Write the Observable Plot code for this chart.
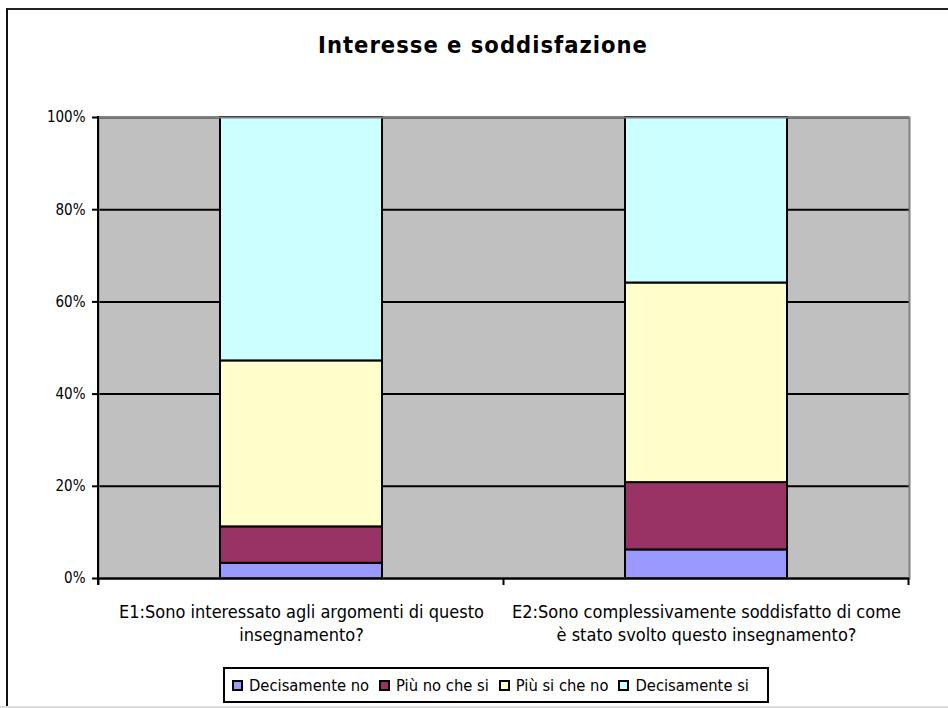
<!DOCTYPE html>
<html>
<head>
<meta charset="utf-8">
<script src="https://cdn.jsdelivr.net/npm/d3@7"></script>
<script src="https://cdn.jsdelivr.net/npm/@observablehq/plot@0.6"></script>
<style>
  html, body { margin: 0; padding: 0; background: #fff; }
  #wrap { position: relative; width: 948px; height: 708px; overflow: hidden; font-family: "DejaVu Sans Condensed", "Liberation Sans", sans-serif; color: #000; }
  #frame { position: absolute; left: 6px; top: 8px; width: 1000px; height: 1000px; border-left: 2px solid #111; border-top: 2px solid #222; }
  #title { position: absolute; left: 0; width: 966px; top: 31px; text-align: center; font-weight: bold; font-size: 23.5px; letter-spacing: 1px; }
  #chart { position: absolute; left: 0; top: 100px; }
  #legend { position: absolute; left: 223px; top: 667px; width: 542px; height: 32px; border: 2px solid #000; box-sizing: content-box; display: flex; align-items: center; justify-content: flex-start; padding-left: 0; font-size: 16.4px; white-space: nowrap; }
  .item { display: flex; align-items: center; margin-left: 7px; margin-right: 10px; }
  .sw { width: 7px; height: 7px; border: 2px solid #000; margin-right: 6px; }
  #bottomline { position: absolute; left: 0; top: 706px; width: 948px; height: 2px; background: #ddd; }
</style>
</head>
<body>
<div id="wrap">
  <div id="frame"></div>
  <div id="title">Interesse e soddisfazione</div>
  <div id="chart"></div>
  <div id="legend"></div>
  <div id="bottomline"></div>
</div>
<script>
const categories = [
  "E1:Sono interessato agli argomenti di questo\ninsegnamento?",
  "E2:Sono complessivamente soddisfatto di come\nè stato svolto questo insegnamento?"
];
const seriesNames = ["Decisamente no", "Più no che si", "Più si che no", "Decisamente si"];
const seriesColors = ["#9999FF", "#993366", "#FFFFCC", "#CCFFFF"];
const decisamenteNo = [3.3, 6.2];
const piuNoCheSi = [7.9, 14.6];
const piuSiCheNo = [36.0, 43.3];
const decisamenteSi = [52.8, 35.9];
const yTicks = [0, 0.2, 0.4, 0.6, 0.8, 1];

const seriesValues = [decisamenteNo, piuNoCheSi, piuSiCheNo, decisamenteSi];
const rows = [];
seriesNames.forEach((s, si) => {
  categories.forEach((c, ci) => {
    rows.push({category: c, series: s, value: seriesValues[si][ci]});
  });
});

const plot = Plot.plot({
  width: 948,
  height: 560,
  marginLeft: 98,
  marginRight: 39,
  marginTop: 17,
  marginBottom: 82,
  style: {fontFamily: '"DejaVu Sans Condensed", "Liberation Sans", sans-serif', fontSize: "15px", color: "#000", background: "transparent"},
  x: {domain: categories, paddingInner: 0.6, paddingOuter: 0.3, axis: null},
  y: {domain: [0, 1], axis: null},
  color: {domain: seriesNames, range: seriesColors},
  marks: [
    Plot.frame({fill: "#C0C0C0", stroke: null}),
    Plot.ruleY(yTicks, {stroke: "#000", strokeWidth: 2}),
    Plot.barY(rows, Plot.stackY({offset: "normalize", x: "category", y: "value", fill: "series", stroke: "#000", strokeWidth: 2, inset: 0})),
    Plot.frame({stroke: "#808080", strokeWidth: 2, fill: null}),
    Plot.ruleY([0], {stroke: "#000", strokeWidth: 2}),
    Plot.axisY({ticks: yTicks, tickFormat: d3.format(".0%"), tickSize: 6, tickPadding: 7, fontSize: 15, strokeWidth: 2, label: null}),
    Plot.text(categories, {x: d => d, text: d => d, frameAnchor: "bottom", lineAnchor: "top", dy: 23, fontSize: 18, lineHeight: 1.28})
  ]
});

// left axis line and category boundary ticks, from the library's scales
const xs = plot.scale("x");
const ys = plot.scale("y");
const svg = d3.select(plot);
const yBottom = ys.apply(0), yTop = ys.apply(1);
const xLeft = xs.range[0];
svg.append("line").attr("x1", xLeft).attr("x2", xLeft).attr("y1", yTop - 1).attr("y2", yBottom + 7)
  .attr("stroke", "#000").attr("stroke-width", 2);
const bounds = [];
categories.forEach((c, i) => {
  const center = xs.apply(c) + xs.bandwidth / 2;
  if (i === 0) bounds.push(center - xs.step / 2);
  bounds.push(center + xs.step / 2);
});
bounds.forEach(b => {
  svg.append("line").attr("x1", b).attr("x2", b).attr("y1", yBottom).attr("y2", yBottom + 7)
    .attr("stroke", "#000").attr("stroke-width", 2);
});

document.getElementById("chart").appendChild(plot);

const legend = document.getElementById("legend");
seriesNames.forEach((s, i) => {
  const item = document.createElement("div");
  item.className = "item";
  if (i > 0) item.style.marginLeft = "0px";
  const sw = document.createElement("div");
  sw.className = "sw";
  sw.style.background = seriesColors[i];
  const t = document.createElement("span");
  t.textContent = s;
  item.appendChild(sw);
  item.appendChild(t);
  legend.appendChild(item);
});
</script>
</body>
</html>
